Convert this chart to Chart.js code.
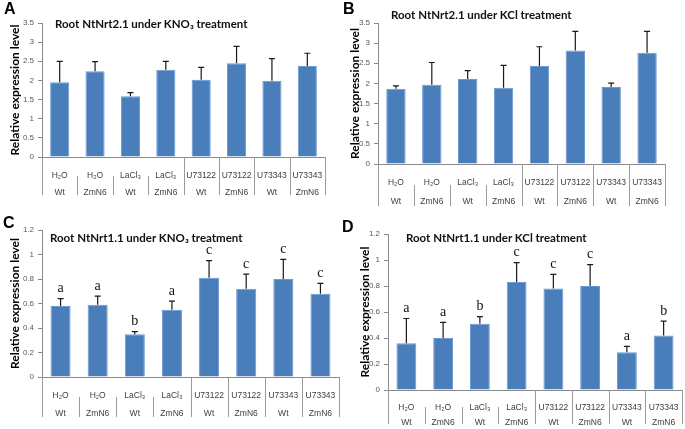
<!DOCTYPE html>
<html>
<head>
<meta charset="utf-8">
<script src="https://cdn.jsdelivr.net/npm/chart.js@4.4.1/dist/chart.umd.min.js"></script>
<style>
  body { margin: 0; background: #fff; }
  #wrap { position: relative; width: 685px; height: 429px; overflow: hidden; }
  canvas { position: absolute; }
  .letter { position: absolute; font: bold 16px "Liberation Sans", Arial, sans-serif; color: #000; }
  .title { position: absolute; font: bold 11.5px Lato, "Open Sans", sans-serif; color: #111; white-space: nowrap; }
</style>
</head>
<body>
<div id="wrap">
  <canvas id="chartA" width="340" height="215" style="left:0;top:0"></canvas>
  <canvas id="chartB" width="345" height="215" style="left:340px;top:0"></canvas>
  <canvas id="chartC" width="340" height="214" style="left:0;top:215px"></canvas>
  <canvas id="chartD" width="345" height="214" style="left:340px;top:215px"></canvas>

  <div class="letter" style="left:4px;top:0px">A</div>
  <div class="letter" style="left:343px;top:0px">B</div>
  <div class="letter" style="left:3px;top:214px">C</div>
  <div class="letter" style="left:342px;top:218px">D</div>

  <div class="title" style="left:55px;top:17px">Root NtNrt2.1 under KNO₃ treatment</div>
  <div class="title" style="left:391px;top:8px">Root NtNrt2.1 under KCl treatment</div>
  <div class="title" style="left:50px;top:231px">Root NtNrt1.1 under KNO₃ treatment</div>
  <div class="title" style="left:406px;top:231px">Root NtNrt1.1 under KCl treatment</div>
</div>

<script>
// categories (treatment / genotype)
const categories = [
	["H₂O", "Wt"], ["H₂O", "ZmN6"], ["LaCl₃", "Wt"], ["LaCl₃", "ZmN6"],
	["U73122", "Wt"], ["U73122", "ZmN6"], ["U73343", "Wt"], ["U73343", "ZmN6"]
];

// A: NtNrt2.1, KNO3
const nrt21KNO3 = [1.95, 2.24, 1.59, 2.28, 2.02, 2.45, 1.99, 2.38];
const nrt21KNO3Err = [0.55, 0.25, 0.09, 0.22, 0.32, 0.44, 0.58, 0.33];

// B: NtNrt2.1, KCl
const nrt21KCl = [1.87, 1.97, 2.11, 1.89, 2.43, 2.82, 1.91, 2.76];
const nrt21KClErr = [0.07, 0.55, 0.21, 0.56, 0.48, 0.47, 0.10, 0.53];

// C: NtNrt1.1, KNO3
const nrt11KNO3 = [0.58, 0.59, 0.35, 0.55, 0.81, 0.72, 0.80, 0.68];
const nrt11KNO3Err = [0.06, 0.07, 0.02, 0.07, 0.14, 0.12, 0.16, 0.085];
const nrt11KNO3Sig = ["a", "a", "b", "a", "c", "c", "c", "c"];

// D: NtNrt1.1, KCl
const nrt11KCl = [0.36, 0.40, 0.51, 0.83, 0.78, 0.80, 0.29, 0.42];
const nrt11KClErr = [0.19, 0.12, 0.055, 0.15, 0.11, 0.165, 0.045, 0.11];
const nrt11KClSig = ["a", "a", "b", "c", "c", "c", "a", "b"];

// y axis ranges
const nrt21Max = 3.5, nrt21Step = 0.5;
const nrt11Max = 1.2, nrt11Step = 0.2;

const barColor = "#4a7ebb";

// error bars (upper only) + significance letters
const errorBarPlugin = {
	id: "errorBars",
	afterDatasetsDraw(chart, args, opts) {
		const ctx = chart.ctx;
		const x = chart.scales.x, y = chart.scales.y;
		const values = chart.data.datasets[0].data;
		ctx.save();
		ctx.strokeStyle = "#1a1a1a";
		ctx.lineWidth = 1.2;
		values.forEach((v, i) => {
			const px = x.getPixelForValue(i);
			const y0 = y.getPixelForValue(v);
			const y1 = y.getPixelForValue(v + opts.err[i]);
			ctx.beginPath();
			ctx.moveTo(px, y0);
			ctx.lineTo(px, y1);
			ctx.moveTo(px - 3, y1);
			ctx.lineTo(px + 3, y1);
			ctx.stroke();
			if (opts.sig) {
				ctx.fillStyle = "#111";
				ctx.font = "14px 'Liberation Serif', 'Times New Roman', serif";
				ctx.textAlign = "center";
				ctx.textBaseline = "bottom";
				ctx.fillText(opts.sig[i], px, y1 - 3);
			}
		});
		ctx.restore();
	}
};

// vertical separators in the category label area
const separatorPlugin = {
	id: "separators",
	afterDraw(chart, args, opts) {
		const ctx = chart.ctx;
		const x = chart.scales.x;
		const n = chart.data.labels.length;
		const half = (x.getPixelForValue(1) - x.getPixelForValue(0)) / 2;
		const top = chart.chartArea.bottom;
		const depth = opts.depth;
		ctx.save();
		ctx.strokeStyle = "#9a9a9a";
		ctx.lineWidth = 1;
		for (let i = 0; i <= n; i++) {
			const px = Math.round(i < n ? x.getPixelForValue(i) - half : x.getPixelForValue(n - 1) + half) + 0.5;
			const full = i === 0 || i >= 4;
			ctx.beginPath();
			ctx.moveTo(px, full ? top : top + depth / 2);
			ctx.lineTo(px, top + depth);
			ctx.stroke();
		}
		ctx.restore();
	}
};

function makePanel(id, values, err, sig, max, step, area, lineH, pad, titleX) {
	const canvas = document.getElementById(id);
	const w = canvas.width, h = canvas.height;
	return new Chart(canvas, {
		type: "bar",
		data: {
			labels: categories,
			datasets: [{
				data: values,
				backgroundColor: barColor,
				borderColor: "#6a98d4",
				borderWidth: 1,
				barPercentage: 0.54,
				categoryPercentage: 1
			}]
		},
		options: {
			responsive: false,
			animation: false,
			layout: { padding: { left: 0, top: area.t, right: w - area.r, bottom: 0 } },
			plugins: {
				legend: { display: false },
				tooltip: { enabled: false },
				errorBars: { err: err, sig: sig },
				separators: { depth: lineH * 2 + 4 }
			},
			scales: {
				x: {
					grid: { display: false },
					border: { display: true, color: "#8a8a8a" },
					ticks: {
						color: "#404040",
						font: { family: "'Liberation Sans', Arial, sans-serif", size: 8.5, lineHeight: lineH / 8.5 },
						padding: pad,
						maxRotation: 0,
						autoSkip: false
					},
					afterFit: s => { s.height = h - area.b; }
				},
				y: {
					min: 0,
					max: max,
					ticks: {
						stepSize: step,
						color: "#595959",
						font: { family: "'Liberation Sans', Arial, sans-serif", size: 8 },
						padding: 4,
						callback: v => String(Math.round(v * 10) / 10)
					},
					grid: { drawOnChartArea: false, drawTicks: true, tickLength: 4, color: "#8a8a8a" },
					border: { display: true, color: "#8a8a8a" },
					title: {
						display: true,
						text: "Relative expression level",
						color: "#000",
						font: { family: "Lato, 'Open Sans', sans-serif", size: 12, weight: "bold" },
						padding: { top: titleX, bottom: 0 }
					},
					afterFit: s => { s.width = area.l; }
				}
			}
		},
		plugins: [errorBarPlugin, separatorPlugin]
	});
}

makePanel("chartA", nrt21KNO3, nrt21KNO3Err, null, nrt21Max, nrt21Step,
	{ l: 42, r: 325, t: 23, b: 157 }, 17, 2.5, 8);
makePanel("chartB", nrt21KCl, nrt21KClErr, null, nrt21Max, nrt21Step,
	{ l: 38, r: 325, t: 23, b: 164 }, 19, 1, 8);
makePanel("chartC", nrt11KNO3, nrt11KNO3Err, nrt11KNO3Sig, nrt11Max, nrt11Step,
	{ l: 42, r: 339, t: 15, b: 162 }, 18, 2, 8);
makePanel("chartD", nrt11KCl, nrt11KClErr, nrt11KClSig, nrt11Max, nrt11Step,
	{ l: 48, r: 342, t: 19, b: 175 }, 15, 2.5, 18);
</script>
</body>
</html>
